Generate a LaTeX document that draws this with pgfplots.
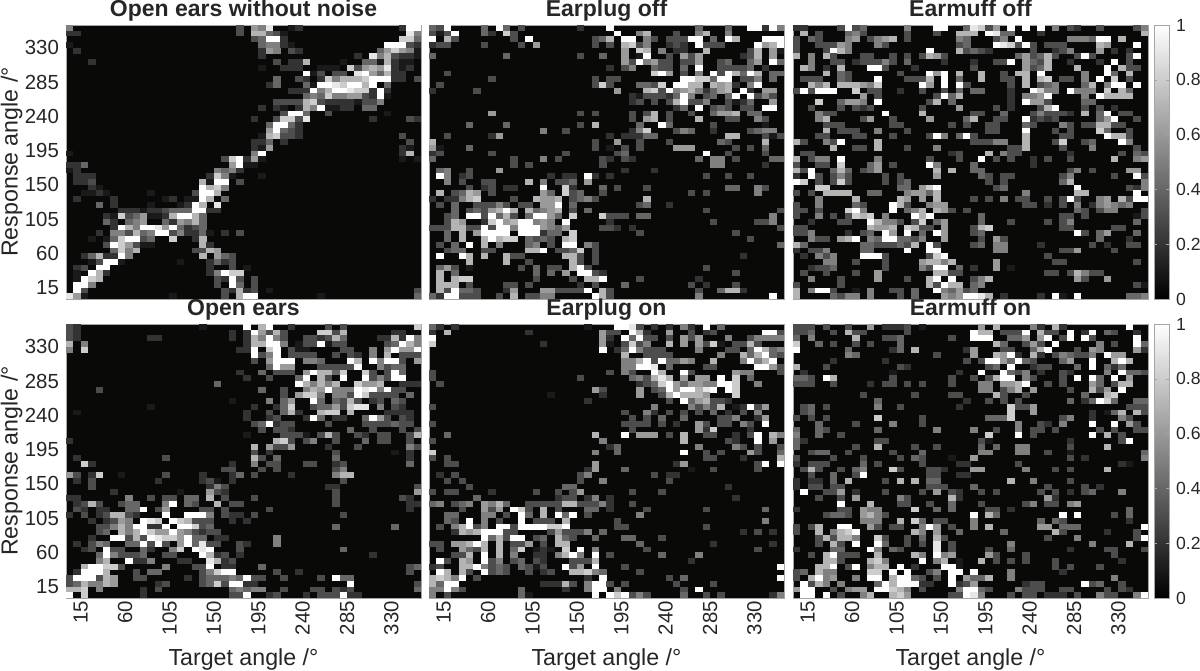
\documentclass[border=0pt]{standalone}
\usepackage{fontspec}
\setmainfont{Liberation Sans}
\usepackage{pgfplots}
\usepackage{pgfplotstable}
\pgfplotsset{compat=1.18}
\pgfdeclareplotmark{cell}{\pgfpathrectangle{\pgfpoint{-1.87pt}{-1.45pt}}{\pgfpoint{3.74pt}{2.9pt}}\pgfusepathqfill}
\definecolor{bg}{RGB}{9,9,7}
\definecolor{txt}{RGB}{38,38,38}
\pgfplotsset{
  panel/.style={
    scale only axis, anchor=south west, width=177.5pt, height=137pt,
    xmin=0, xmax=360, ymin=0, ymax=360,
    xtick={15,60,105,150,195,240,285,330}, ytick={15,60,105,150,195,240,285,330},
    /pgf/number format/assume math mode=true,
    axis background/.style={fill=bg}, axis on top,
    axis line style={draw=black!35}, major tick length=0pt,
    tick label style={font=\fontsize{10.2}{12}\selectfont, text=txt},
    label style={font=\fontsize{11.6}{13}\selectfont, text=txt},
    title style={font=\fontsize{11.5}{13}\selectfont\bfseries, text=txt, anchor=base, yshift=-1.85pt},
    xticklabel style={rotate=90, anchor=east, xshift=2pt},
    xlabel={Target angle /°}, ylabel={Response angle /°},
    ylabel style={at={(axis description cs:-0.153,0.5)}, anchor=center},
    colormap/blackwhite, point meta min=0, point meta max=1,
  },
  cbar/.style={
    scale only axis, anchor=south west, width=7.5pt, height=137pt,
    xmin=0, xmax=1, ymin=0, ymax=1, xtick=\empty,
    ytick={0,0.2,0.4,0.6,0.8,1}, yticklabels={0,0.2,0.4,0.6,0.8,1},
    yticklabel pos=right, axis on top, axis line style={draw=black!35},
    major tick length=1.5pt, tick style={draw=black!35},
    tick label style={font=\fontsize{8.8}{11}\selectfont, text=txt},
    colormap/blackwhite, point meta min=0, point meta max=1,
  },
  cells/.style={scatter, only marks, mark=cell, scatter src=explicit,
    scatter/use mapped color={fill=mapped color, draw=none}},
  /pgfplots/table/cellsrc/.style={x expr=\thisrow{c}*7.5-3.75, y expr=363.75-\thisrow{r}*7.5, meta expr=\thisrow{v}/10},
}
% c = column from left, r = row from top, v = tenths of full scale; cells not listed are 0
\pgfplotstableread[row sep=\\]{c r v\\
1 1 5\\24 1 3\\26 1 6\\27 1 5\\28 1 9\\31 1 1\\32 1 2\\46 1 2\\47 1 10\\48 1 10\\
1 2 2\\2 2 2\\24 2 3\\26 2 7\\27 2 7\\28 2 4\\29 2 3\\30 2 1\\47 2 9\\48 2 5\\
26 3 3\\27 3 4\\28 3 10\\29 3 10\\30 3 2\\46 3 8\\47 3 8\\48 3 4\\
1 4 1\\27 4 4\\28 4 5\\29 4 5\\30 4 2\\31 4 1\\44 4 10\\45 4 10\\46 4 10\\47 4 3\\48 4 2\\
2 5 2\\27 5 2\\28 5 6\\29 5 5\\31 5 3\\32 5 2\\43 5 4\\44 5 6\\45 5 8\\46 5 6\\47 5 5\\48 5 1\\
27 6 2\\40 6 2\\42 6 9\\43 6 5\\44 6 7\\45 6 3\\46 6 2\\47 6 2\\48 6 1\\
4 7 2\\29 7 3\\31 7 2\\32 7 2\\33 7 7\\38 7 1\\41 7 4\\42 7 4\\43 7 1\\44 7 7\\45 7 2\\46 7 1\\47 7 1\\
27 8 1\\30 8 2\\31 8 2\\32 8 2\\35 8 1\\36 8 1\\37 8 1\\39 8 8\\40 8 3\\41 8 6\\42 8 7\\43 8 6\\44 8 9\\45 8 2\\46 8 1\\47 8 2\\
33 9 10\\34 9 1\\35 9 3\\37 9 3\\38 9 3\\40 9 9\\41 9 10\\42 9 6\\43 9 4\\44 9 7\\45 9 2\\46 9 2\\
29 10 4\\32 10 3\\33 10 2\\35 10 2\\36 10 8\\37 10 5\\38 10 7\\39 10 7\\40 10 7\\41 10 8\\42 10 10\\43 10 10\\44 10 10\\45 10 2\\46 10 2\\48 10 3\\
28 11 2\\29 11 4\\33 11 4\\34 11 1\\35 11 10\\36 11 10\\37 11 9\\38 11 8\\39 11 10\\40 11 10\\41 11 7\\42 11 10\\44 11 4\\
31 12 2\\32 12 2\\33 12 2\\34 12 10\\35 12 5\\36 12 7\\37 12 10\\38 12 10\\39 12 9\\40 12 8\\41 12 8\\42 12 2\\43 12 10\\44 12 2\\
33 13 4\\34 13 5\\35 13 4\\36 13 8\\37 13 5\\38 13 5\\39 13 6\\40 13 6\\41 13 3\\42 13 2\\43 13 10\\44 13 1\\
29 14 3\\30 14 3\\31 14 3\\32 14 3\\33 14 7\\34 14 8\\35 14 3\\36 14 2\\37 14 2\\38 14 2\\39 14 2\\40 14 1\\41 14 3\\42 14 3\\43 14 5\\
27 15 2\\29 15 2\\30 15 1\\32 15 2\\33 15 7\\34 15 5\\35 15 10\\36 15 1\\37 15 1\\38 15 2\\39 15 2\\41 15 4\\42 15 4\\
30 16 3\\31 16 10\\32 16 10\\33 16 4\\36 16 3\\44 16 1\\
26 17 2\\29 17 3\\30 17 8\\31 17 8\\32 17 3\\33 17 9\\42 17 2\\47 17 3\\48 17 2\\
28 18 4\\29 18 10\\30 18 10\\31 18 4\\32 18 2\\
28 19 6\\29 19 10\\30 19 4\\31 19 3\\32 19 2\\
27 20 1\\28 20 7\\29 20 8\\30 20 3\\31 20 3\\32 20 2\\46 20 3\\
26 21 2\\27 21 2\\28 21 4\\30 21 2\\47 21 3\\
26 22 2\\27 22 1\\28 22 6\\46 22 2\\47 22 1\\
1 23 1\\26 23 5\\27 23 10\\46 23 2\\47 23 7\\
22 24 3\\23 24 8\\24 24 10\\25 24 2\\26 24 6\\27 24 1\\46 24 1\\48 24 1\\
1 25 2\\2 25 2\\3 25 4\\23 25 6\\24 25 10\\25 25 1\\26 25 1\\
1 26 1\\2 26 2\\21 26 5\\22 26 4\\23 26 5\\24 26 2\\
2 27 2\\3 27 2\\4 27 2\\20 27 2\\21 27 8\\22 27 5\\23 27 1\\27 27 1\\
2 28 2\\3 28 2\\4 28 3\\19 28 7\\20 28 1\\21 28 10\\22 28 10\\24 28 3\\
4 29 2\\5 29 1\\19 29 10\\20 29 7\\21 29 8\\22 29 5\\
3 30 1\\4 30 1\\5 30 2\\6 30 1\\12 30 1\\18 30 3\\19 30 10\\20 30 10\\21 30 7\\
2 31 2\\7 31 2\\14 31 1\\15 31 2\\17 31 1\\18 31 1\\19 31 10\\20 31 7\\22 31 4\\
5 32 4\\7 32 2\\12 32 1\\16 32 1\\17 32 2\\18 32 10\\19 32 7\\21 32 9\\
8 33 2\\9 33 2\\10 33 2\\11 33 1\\12 33 2\\13 33 2\\14 33 3\\15 33 4\\16 33 4\\17 33 4\\18 33 10\\19 33 10\\20 33 2\\21 33 2\\
6 34 2\\7 34 1\\8 34 8\\9 34 3\\10 34 4\\11 34 6\\12 34 1\\13 34 1\\14 34 2\\15 34 7\\16 34 10\\17 34 10\\18 34 7\\19 34 4\\
6 35 4\\7 35 2\\9 35 4\\10 35 5\\11 35 6\\14 35 4\\15 35 2\\16 35 6\\17 35 5\\18 35 7\\19 35 4\\
7 36 2\\8 36 10\\9 36 7\\10 36 5\\11 36 10\\12 36 10\\13 36 9\\14 36 6\\15 36 10\\16 36 4\\17 36 2\\18 36 3\\19 36 4\\
5 37 2\\7 37 5\\8 37 5\\9 37 3\\10 37 7\\11 37 4\\12 37 5\\13 37 10\\14 37 10\\15 37 3\\16 37 5\\17 37 2\\18 37 2\\19 37 4\\20 37 1\\22 37 2\\24 37 3\\
4 38 1\\6 38 1\\7 38 4\\8 38 8\\9 38 10\\10 38 10\\11 38 3\\12 38 4\\15 38 8\\18 38 2\\19 38 7\\
6 39 3\\7 39 10\\8 39 8\\9 39 6\\10 39 3\\11 39 1\\12 39 1\\19 39 7\\20 39 2\\
7 40 4\\8 40 8\\9 40 5\\10 40 7\\18 40 3\\19 40 3\\20 40 7\\21 40 6\\
3 41 2\\4 41 4\\5 41 7\\6 41 2\\7 41 2\\8 41 10\\9 41 5\\19 41 7\\21 41 6\\22 41 4\\23 41 3\\
4 42 1\\5 42 3\\6 42 10\\7 42 10\\8 42 1\\16 42 1\\20 42 2\\21 42 4\\22 42 2\\23 42 3\\
2 43 2\\3 43 3\\5 43 10\\6 43 10\\20 43 2\\23 43 3\\25 43 1\\
2 44 1\\4 44 10\\5 44 7\\6 44 2\\20 44 2\\21 44 5\\22 44 10\\23 44 8\\24 44 8\\
2 45 1\\3 45 10\\4 45 8\\5 45 7\\21 45 3\\22 45 2\\23 45 10\\24 45 3\\26 45 3\\
2 46 10\\3 46 10\\4 46 5\\21 46 3\\23 46 10\\24 46 4\\26 46 3\\
2 47 10\\3 47 3\\22 47 3\\23 47 2\\24 47 7\\25 47 2\\26 47 3\\28 47 1\\48 47 3\\
1 48 9\\2 48 6\\3 48 1\\15 48 1\\22 48 3\\24 48 7\\25 48 10\\26 48 10\\35 48 1\\48 48 4\\
}\panelA
\pgfplotstableread[row sep=\\]{c r v\\
1 1 4\\2 1 3\\3 1 10\\8 1 4\\10 1 10\\11 1 4\\13 1 3\\21 1 2\\25 1 10\\37 1 4\\41 1 4\\44 1 10\\45 1 10\\46 1 2\\47 1 10\\48 1 5\\
1 2 3\\2 2 1\\3 2 3\\4 2 10\\8 2 4\\9 2 2\\11 2 8\\12 2 3\\26 2 10\\29 2 5\\30 2 7\\34 2 3\\37 2 5\\38 2 7\\41 2 5\\
1 3 10\\3 3 7\\4 3 3\\12 3 3\\14 3 10\\23 3 3\\24 3 4\\25 3 7\\27 3 10\\28 3 10\\30 3 5\\31 3 3\\33 3 3\\34 3 3\\35 3 3\\36 3 10\\37 3 10\\39 3 4\\41 3 10\\42 3 7\\46 3 10\\47 3 10\\48 3 10\\
1 4 2\\2 4 3\\3 4 3\\8 4 3\\13 4 3\\15 4 6\\23 4 3\\25 4 3\\27 4 7\\28 4 8\\29 4 3\\30 4 5\\33 4 2\\34 4 3\\35 4 2\\37 4 10\\38 4 3\\39 4 3\\40 4 3\\45 4 10\\46 4 6\\47 4 7\\48 4 10\\
27 5 6\\29 5 8\\30 5 7\\32 5 5\\34 5 2\\35 5 2\\38 5 7\\44 5 3\\45 5 7\\47 5 6\\48 5 1\\
1 6 4\\11 6 4\\21 6 3\\24 6 4\\27 6 6\\29 6 1\\30 6 10\\33 6 3\\35 6 6\\36 6 3\\37 6 6\\43 6 2\\44 6 3\\45 6 7\\47 6 6\\
27 7 6\\28 7 3\\29 7 10\\30 7 5\\31 7 6\\32 7 3\\33 7 3\\35 7 3\\36 7 3\\37 7 6\\40 7 3\\41 7 4\\44 7 4\\45 7 6\\47 7 10\\48 7 4\\
25 8 2\\27 8 3\\28 8 5\\31 8 4\\32 8 3\\33 8 3\\35 8 4\\37 8 10\\40 8 3\\41 8 3\\42 8 3\\43 8 3\\44 8 4\\46 8 2\\
3 9 3\\31 9 8\\32 9 10\\33 9 6\\35 9 3\\37 9 5\\39 9 10\\40 9 3\\41 9 10\\42 9 7\\43 9 4\\44 9 10\\45 9 7\\47 9 4\\48 9 4\\
9 10 3\\23 10 3\\25 10 3\\26 10 3\\35 10 10\\36 10 10\\37 10 8\\38 10 8\\39 10 4\\40 10 10\\41 10 10\\43 10 3\\44 10 3\\45 10 5\\47 10 4\\
2 11 3\\23 11 3\\24 11 8\\25 11 3\\29 11 4\\30 11 4\\31 11 3\\32 11 8\\34 11 10\\35 11 10\\36 11 7\\37 11 7\\39 11 7\\40 11 6\\41 11 7\\42 11 2\\44 11 5\\45 11 10\\
1 12 2\\7 12 3\\26 12 6\\30 12 7\\31 12 8\\32 12 3\\33 12 10\\34 12 5\\35 12 6\\36 12 7\\37 12 5\\38 12 2\\39 12 4\\40 12 6\\41 12 7\\43 12 10\\44 12 2\\46 12 6\\47 12 6\\
28 13 2\\29 13 1\\30 13 3\\31 13 3\\32 13 3\\33 13 2\\34 13 4\\35 13 10\\36 13 5\\38 13 3\\39 13 4\\41 13 4\\42 13 10\\44 13 10\\45 13 3\\46 13 5\\47 13 3\\
28 14 2\\29 14 3\\31 14 3\\33 14 3\\34 14 7\\35 14 10\\36 14 3\\37 14 3\\38 14 5\\41 14 3\\42 14 1\\43 14 2\\44 14 4\\47 14 6\\
34 15 2\\35 15 4\\37 15 10\\39 15 3\\40 15 4\\41 15 3\\43 15 3\\44 15 3\\46 15 10\\47 15 10\\
9 16 6\\21 16 3\\23 16 3\\28 16 3\\30 16 3\\31 16 7\\33 16 3\\36 16 3\\39 16 4\\40 16 6\\41 16 6\\42 16 7\\44 16 4\\45 16 4\\
28 17 3\\30 17 6\\31 17 7\\33 17 3\\37 17 7\\41 17 3\\42 17 3\\45 17 5\\46 17 3\\
6 18 4\\11 18 4\\21 18 3\\23 18 7\\29 18 4\\32 18 10\\33 18 4\\39 18 3\\46 18 1\\
16 19 5\\19 19 3\\28 19 2\\29 19 5\\30 19 8\\34 19 3\\35 19 5\\36 19 4\\39 19 2\\44 19 3\\45 19 4\\46 19 5\\47 19 5\\
3 20 3\\9 20 2\\10 20 6\\25 20 2\\27 20 2\\28 20 2\\29 20 2\\30 20 4\\31 20 4\\41 20 7\\42 20 7\\46 20 3\\47 20 1\\48 20 3\\
1 21 7\\23 21 3\\26 21 6\\29 21 3\\33 21 3\\40 21 4\\41 21 3\\46 21 7\\
1 22 6\\2 22 1\\6 22 4\\23 22 3\\25 22 1\\27 22 3\\29 22 3\\34 22 6\\35 22 6\\36 22 6\\42 22 3\\44 22 3\\46 22 4\\
1 23 2\\2 23 3\\9 23 3\\19 23 3\\26 23 3\\27 23 4\\38 23 10\\41 23 3\\46 23 3\\
1 24 4\\12 24 3\\16 24 5\\18 24 3\\24 24 3\\25 24 2\\27 24 3\\28 24 2\\37 24 4\\39 24 5\\40 24 5\\42 24 3\\47 24 4\\48 24 4\\
12 25 3\\14 25 3\\24 25 3\\39 25 5\\40 25 5\\46 25 2\\
2 26 4\\3 26 5\\6 26 3\\10 26 6\\27 26 2\\31 26 2\\
2 27 10\\3 27 5\\5 27 2\\6 27 3\\17 27 2\\19 27 2\\20 27 2\\22 27 10\\23 27 2\\25 27 2\\38 27 3\\41 27 3\\44 27 3\\
3 28 5\\5 28 3\\8 28 3\\9 28 3\\14 28 7\\16 28 5\\18 28 3\\19 28 3\\20 28 4\\22 28 6\\
6 29 3\\8 29 2\\9 29 3\\11 29 2\\12 29 2\\16 29 10\\19 29 8\\20 29 2\\24 29 4\\26 29 3\\30 29 3\\41 29 4\\42 29 4\\45 29 5\\46 29 3\\
2 30 7\\4 30 3\\5 30 4\\6 30 7\\7 30 6\\9 30 3\\16 30 6\\17 30 4\\19 30 8\\20 30 3\\21 30 4\\24 30 3\\36 30 3\\38 30 3\\45 30 5\\
1 31 2\\3 31 2\\4 31 2\\5 31 5\\6 31 7\\7 31 8\\12 31 3\\15 31 7\\16 31 6\\17 31 6\\18 31 7\\20 31 3\\21 31 4\\22 31 5\\23 31 3\\30 31 7\\
2 32 3\\4 32 4\\7 32 3\\8 32 3\\9 32 3\\10 32 5\\11 32 3\\13 32 3\\14 32 3\\16 32 6\\17 32 6\\18 32 10\\20 32 4\\29 32 3\\30 32 4\\33 32 2\\
4 33 4\\6 33 3\\7 33 4\\8 33 3\\9 33 6\\10 33 7\\11 33 10\\12 33 7\\14 33 7\\15 33 4\\16 33 5\\17 33 6\\18 33 7\\20 33 3\\22 33 4\\38 33 3\\48 33 3\\
3 34 3\\4 34 4\\6 34 10\\7 34 10\\8 34 3\\9 34 10\\10 34 4\\11 34 7\\12 34 3\\14 34 4\\15 34 10\\16 34 10\\17 34 6\\18 34 4\\20 34 8\\24 34 8\\25 34 3\\26 34 3\\27 34 3\\29 34 4\\30 34 4\\47 34 5\\
3 35 3\\4 35 7\\5 35 6\\8 35 2\\9 35 8\\10 35 10\\11 35 6\\12 35 7\\13 35 10\\14 35 10\\15 35 5\\16 35 6\\17 35 5\\19 35 10\\25 35 2\\39 35 3\\45 35 3\\46 35 3\\47 35 5\\
1 36 3\\2 36 3\\3 36 3\\4 36 7\\5 36 7\\6 36 3\\7 36 3\\8 36 10\\9 36 3\\10 36 10\\11 36 10\\12 36 5\\13 36 10\\14 36 10\\15 36 10\\16 36 6\\17 36 5\\18 36 4\\19 36 6\\24 36 3\\25 36 3\\26 36 2\\28 36 2\\48 36 3\\
3 37 4\\5 37 7\\7 37 6\\8 37 10\\9 37 10\\10 37 10\\11 37 10\\13 37 10\\14 37 10\\15 37 10\\16 37 2\\17 37 4\\18 37 4\\20 37 8\\29 37 3\\42 37 3\\
3 38 4\\5 38 7\\8 38 7\\9 38 10\\10 38 7\\11 38 8\\12 38 8\\14 38 4\\15 38 3\\16 38 4\\17 38 3\\19 38 7\\20 38 8\\44 38 3\\
2 39 3\\4 39 4\\6 39 10\\8 39 7\\10 39 5\\14 39 4\\15 39 5\\17 39 3\\19 39 10\\20 39 10\\22 39 5\\23 39 3\\48 39 4\\
3 40 3\\4 40 4\\5 40 4\\8 40 3\\9 40 3\\14 40 7\\15 40 7\\16 40 10\\18 40 3\\19 40 3\\20 40 4\\21 40 8\\23 40 3\\
2 41 10\\5 41 10\\6 41 7\\8 41 7\\11 41 7\\12 41 3\\13 41 3\\19 41 7\\20 41 7\\21 41 3\\23 41 3\\43 41 2\\
6 42 7\\11 42 7\\14 42 3\\20 42 7\\21 42 3\\23 42 3\\
2 43 4\\3 43 6\\4 43 3\\6 43 1\\13 43 3\\15 43 4\\17 43 3\\18 43 3\\20 43 7\\21 43 10\\22 43 3\\38 43 3\\
2 44 7\\4 44 4\\15 44 4\\17 44 4\\19 44 6\\21 44 10\\22 44 10\\23 44 3\\24 44 2\\42 44 3\\
2 45 7\\4 45 7\\5 45 8\\6 45 8\\15 45 3\\20 45 3\\22 45 7\\23 45 7\\24 45 10\\29 45 3\\37 45 2\\
2 46 7\\3 46 7\\4 46 7\\6 46 3\\11 46 3\\12 46 3\\14 46 3\\21 46 2\\23 46 3\\27 46 4\\36 46 3\\38 46 2\\42 46 3\\
2 47 7\\3 47 3\\4 47 10\\5 47 4\\6 47 4\\7 47 3\\11 47 2\\12 47 6\\16 47 6\\17 47 6\\18 47 3\\19 47 3\\20 47 3\\21 47 3\\22 47 10\\24 47 7\\25 47 3\\37 47 3\\40 47 4\\41 47 7\\42 47 7\\43 47 2\\
1 48 4\\2 48 2\\3 48 10\\4 48 10\\5 48 3\\6 48 3\\7 48 3\\10 48 3\\12 48 7\\14 48 3\\15 48 3\\16 48 5\\17 48 5\\23 48 10\\24 48 7\\25 48 3\\37 48 5\\47 48 10\\
}\panelB
\pgfplotstableread[row sep=\\]{c r v\\
1 1 2\\2 1 2\\7 1 3\\8 1 10\\9 1 3\\10 1 4\\16 1 5\\20 1 10\\21 1 10\\24 1 4\\25 1 9\\26 1 8\\27 1 3\\28 1 6\\30 1 10\\32 1 10\\34 1 10\\36 1 5\\38 1 3\\39 1 2\\42 1 3\\47 1 3\\48 1 5\\
2 2 7\\4 2 3\\8 2 4\\9 2 5\\10 2 3\\16 2 3\\20 2 3\\23 2 7\\24 2 7\\25 2 7\\27 2 10\\28 2 9\\29 2 4\\30 2 4\\34 2 2\\48 2 7\\
1 3 3\\3 3 4\\4 3 3\\8 3 5\\9 3 6\\11 3 3\\12 3 5\\13 3 6\\14 3 7\\16 3 3\\23 3 5\\24 3 4\\28 3 3\\29 3 5\\31 3 10\\38 3 5\\39 3 5\\40 3 5\\41 3 4\\42 3 10\\43 3 10\\45 3 7\\
1 4 3\\4 4 3\\5 4 3\\6 4 3\\7 4 6\\8 4 5\\12 4 5\\13 4 3\\23 4 3\\24 4 4\\28 4 10\\29 4 9\\30 4 8\\31 4 3\\32 4 10\\33 4 3\\35 4 3\\36 4 3\\37 4 3\\42 4 7\\43 4 6\\47 4 10\\
1 5 3\\5 5 3\\6 5 10\\7 5 7\\8 5 5\\19 5 10\\23 5 7\\24 5 3\\25 5 4\\26 5 3\\27 5 2\\33 5 3\\36 5 2\\37 5 3\\38 5 5\\42 5 6\\44 5 2\\46 5 2\\
1 6 7\\3 6 5\\5 6 7\\6 6 3\\10 6 3\\11 6 3\\14 6 3\\16 6 3\\18 6 3\\19 6 7\\20 6 6\\21 6 3\\31 6 4\\32 6 6\\33 6 3\\34 6 4\\35 6 7\\36 6 3\\39 6 3\\40 6 10\\41 6 3\\46 6 3\\47 6 10\\
3 7 5\\6 7 3\\7 7 3\\9 7 2\\10 7 3\\11 7 3\\12 7 3\\13 7 5\\14 7 3\\16 7 4\\21 7 2\\25 7 2\\28 7 3\\29 7 3\\30 7 10\\32 7 6\\33 7 4\\34 7 3\\35 7 7\\38 7 2\\42 7 2\\44 7 10\\46 7 3\\
2 8 7\\3 8 5\\5 8 2\\7 8 7\\11 8 10\\12 8 10\\13 8 3\\17 8 2\\25 8 3\\32 8 6\\33 8 3\\34 8 4\\35 8 7\\39 8 7\\43 8 10\\45 8 7\\46 8 3\\47 8 3\\
5 9 7\\7 9 4\\8 9 3\\15 9 3\\19 9 10\\20 9 6\\21 9 10\\23 9 7\\26 9 7\\29 9 3\\31 9 7\\32 9 7\\34 9 10\\40 9 5\\43 9 10\\44 9 4\\46 9 7\\
2 10 3\\3 10 3\\4 10 3\\7 10 4\\8 10 3\\12 10 10\\16 10 3\\17 10 3\\18 10 3\\19 10 7\\21 10 10\\23 10 4\\26 10 7\\29 10 3\\30 10 3\\32 10 7\\34 10 7\\35 10 8\\37 10 3\\38 10 3\\40 10 5\\42 10 10\\44 10 8\\46 10 3\\
3 11 7\\4 11 5\\5 11 7\\7 11 7\\8 11 7\\9 11 7\\10 11 6\\11 11 5\\12 11 8\\18 11 10\\19 11 6\\21 11 10\\23 11 10\\24 11 3\\30 11 3\\32 11 7\\34 11 3\\35 11 4\\36 11 5\\40 11 4\\41 11 7\\43 11 5\\44 11 10\\45 11 10\\47 11 10\\
1 12 3\\2 12 10\\3 12 3\\4 12 10\\5 12 10\\6 12 10\\9 12 8\\11 12 3\\12 12 3\\15 12 2\\18 12 3\\21 12 3\\23 12 4\\25 12 4\\26 12 4\\30 12 2\\33 12 10\\34 12 8\\35 12 5\\36 12 5\\38 12 10\\39 12 5\\40 12 5\\41 12 5\\43 12 8\\45 12 7\\46 12 4\\
10 13 6\\12 13 3\\20 13 3\\21 13 10\\22 13 4\\23 13 7\\30 13 2\\32 13 5\\33 13 5\\34 13 6\\35 13 10\\40 13 5\\42 13 10\\43 13 7\\44 13 7\\45 13 7\\46 13 7\\
4 14 8\\7 14 4\\8 14 6\\9 14 6\\10 14 5\\12 14 10\\19 14 3\\20 14 7\\22 14 4\\30 14 2\\32 14 10\\33 14 6\\34 14 6\\35 14 3\\40 14 4\\41 14 4\\
3 15 3\\7 15 3\\9 15 3\\10 15 2\\11 15 3\\18 15 3\\23 15 6\\28 15 3\\30 15 2\\34 15 3\\35 15 7\\36 15 10\\40 15 3\\42 15 3\\44 15 2\\
4 16 5\\5 16 3\\6 16 3\\13 16 10\\18 16 7\\25 16 3\\26 16 3\\29 16 4\\33 16 3\\34 16 5\\35 16 3\\36 16 3\\37 16 3\\38 16 2\\40 16 7\\42 16 4\\43 16 10\\45 16 3\\46 16 3\\
4 17 5\\5 17 7\\10 17 3\\11 17 6\\14 17 3\\19 17 6\\24 17 4\\25 17 7\\28 17 3\\29 17 3\\32 17 10\\33 17 2\\34 17 3\\35 17 2\\36 17 3\\42 17 4\\43 17 6\\44 17 10\\47 17 3\\
5 18 3\\6 18 3\\7 18 3\\14 18 3\\15 18 3\\22 18 3\\24 18 3\\27 18 3\\28 18 3\\32 18 4\\33 18 3\\37 18 5\\38 18 3\\40 18 3\\41 18 3\\42 18 7\\43 18 7\\44 18 3\\45 18 3\\
5 19 7\\7 19 3\\8 19 3\\9 19 3\\12 19 5\\16 19 3\\27 19 3\\28 19 3\\32 19 10\\36 19 3\\38 19 3\\42 19 8\\43 19 4\\46 19 3\\
4 20 3\\5 20 3\\9 20 3\\10 20 3\\14 20 3\\19 20 3\\20 20 10\\21 20 5\\23 20 4\\24 20 10\\25 20 3\\32 20 7\\37 20 3\\38 20 3\\43 20 10\\44 20 7\\45 20 7\\46 20 3\\
1 21 7\\2 21 3\\5 21 5\\6 21 3\\7 21 10\\12 21 7\\25 21 3\\26 21 3\\27 21 3\\28 21 5\\29 21 5\\32 21 7\\36 21 3\\37 21 8\\40 21 3\\41 21 4\\45 21 10\\46 21 5\\
6 22 7\\9 22 3\\10 22 3\\12 22 7\\16 22 3\\20 22 5\\30 22 3\\31 22 3\\32 22 7\\37 22 3\\41 22 5\\47 22 3\\
2 23 3\\3 23 3\\22 23 2\\23 23 3\\27 23 7\\29 23 5\\30 23 3\\31 23 3\\38 23 2\\45 23 3\\47 23 4\\48 23 3\\
1 24 7\\3 24 3\\4 24 5\\5 24 5\\7 24 10\\12 24 5\\19 24 3\\23 24 3\\26 24 10\\28 24 3\\30 24 3\\33 24 2\\35 24 3\\38 24 3\\44 24 7\\47 24 5\\48 24 6\\
1 25 3\\4 25 3\\5 25 3\\7 25 8\\11 25 4\\12 25 6\\14 25 3\\19 25 10\\20 25 5\\25 25 4\\33 25 2\\
1 26 7\\2 26 3\\3 26 10\\6 26 4\\7 26 7\\8 26 4\\10 26 3\\11 26 4\\12 26 6\\20 26 7\\22 26 7\\25 26 4\\26 26 4\\38 26 3\\39 26 5\\41 26 3\\46 26 6\\47 26 6\\
1 27 2\\3 27 10\\4 27 3\\6 27 3\\7 27 5\\8 27 3\\13 27 3\\15 27 3\\20 27 6\\26 27 4\\27 27 3\\29 27 3\\30 27 3\\37 27 3\\38 27 5\\44 27 3\\47 27 10\\48 27 3\\
1 28 10\\2 28 8\\4 28 3\\6 28 3\\7 28 8\\8 28 3\\13 28 3\\15 28 3\\16 28 4\\27 28 3\\29 28 3\\37 28 4\\38 28 7\\48 28 5\\
4 29 8\\5 29 8\\15 29 4\\16 29 4\\18 29 6\\19 29 8\\20 29 10\\28 29 3\\29 29 4\\39 29 10\\46 29 3\\47 29 2\\48 29 5\\
1 30 3\\3 30 3\\5 30 7\\6 30 7\\7 30 7\\8 30 7\\11 30 4\\12 30 4\\16 30 5\\17 30 6\\18 30 6\\19 30 4\\20 30 7\\32 30 5\\39 30 7\\40 30 7\\47 30 10\\
4 31 5\\9 31 7\\15 31 7\\16 31 6\\18 31 6\\20 31 7\\25 31 3\\27 31 3\\29 31 5\\31 31 3\\32 31 3\\35 31 3\\37 31 3\\38 31 10\\39 31 3\\42 31 5\\43 31 6\\45 31 7\\46 31 3\\47 31 10\\48 31 10\\
1 32 3\\4 32 5\\9 32 4\\10 32 3\\14 32 10\\15 32 7\\16 32 3\\19 32 5\\20 32 6\\21 32 6\\32 32 3\\33 32 3\\35 32 2\\37 32 3\\39 32 5\\41 32 2\\42 32 5\\43 32 6\\44 32 5\\45 32 4\\46 32 5\\
1 33 3\\2 33 3\\4 33 3\\8 33 8\\9 33 10\\10 33 5\\14 33 10\\16 33 4\\17 33 5\\18 33 7\\20 33 7\\21 33 6\\22 33 3\\24 33 3\\39 33 4\\40 33 3\\42 33 3\\43 33 5\\44 33 5\\48 33 3\\
1 34 3\\4 34 5\\6 34 3\\8 34 3\\9 34 8\\10 34 7\\11 34 8\\13 34 5\\17 34 10\\18 34 7\\19 34 10\\26 34 4\\37 34 3\\38 34 3\\40 34 3\\47 34 1\\48 34 3\\
3 35 2\\7 35 3\\8 35 3\\11 35 10\\12 35 7\\13 35 5\\14 35 5\\15 35 3\\17 35 3\\18 35 8\\20 35 4\\21 35 6\\26 35 4\\30 35 3\\35 35 3\\37 35 3\\38 35 5\\47 35 4\\
1 36 3\\2 36 3\\11 36 7\\12 36 6\\13 36 6\\14 36 7\\16 36 8\\17 36 7\\18 36 3\\19 36 3\\21 36 6\\25 36 3\\26 36 7\\27 36 8\\37 36 3\\38 36 3\\44 36 3\\45 36 3\\
1 37 3\\2 37 3\\3 37 5\\8 37 2\\10 37 3\\11 37 4\\13 37 10\\14 37 6\\16 37 10\\18 37 4\\20 37 10\\21 37 6\\25 37 3\\26 37 4\\39 37 10\\40 37 3\\42 37 4\\43 37 6\\47 37 4\\
3 38 5\\4 38 3\\5 38 3\\7 38 6\\8 38 7\\9 38 10\\11 38 5\\12 38 4\\13 38 10\\14 38 10\\15 38 4\\16 38 4\\17 38 3\\18 38 5\\21 38 6\\26 38 3\\28 38 6\\29 38 3\\42 38 4\\46 38 2\\
1 39 7\\2 39 4\\10 39 4\\11 39 4\\12 39 3\\13 39 3\\14 39 3\\15 39 4\\16 39 3\\17 39 7\\19 39 10\\20 39 3\\25 39 3\\26 39 4\\28 39 5\\29 39 5\\34 39 2\\41 39 3\\43 39 2\\46 39 3\\47 39 3\\
1 40 2\\3 40 3\\4 40 3\\5 40 5\\10 40 4\\11 40 4\\16 40 10\\19 40 10\\20 40 10\\28 40 5\\29 40 5\\37 40 3\\38 40 3\\39 40 6\\44 40 3\\
2 41 2\\4 41 5\\5 41 3\\6 41 5\\10 41 10\\11 41 10\\12 41 10\\13 41 3\\19 41 3\\20 41 8\\21 41 10\\35 41 3\\
5 42 5\\6 42 5\\9 42 3\\13 42 3\\18 42 6\\19 42 7\\20 42 7\\21 42 5\\22 42 7\\28 42 6\\36 42 3\\37 42 3\\47 42 3\\
3 43 2\\4 43 3\\5 43 3\\6 43 4\\13 43 3\\18 43 5\\19 43 3\\20 43 10\\21 43 10\\23 43 4\\25 43 2\\28 43 6\\30 43 1\\
2 44 3\\5 44 3\\9 44 3\\12 44 6\\20 44 7\\21 44 7\\22 44 3\\23 44 3\\35 44 3\\36 44 3\\38 44 3\\39 44 7\\40 44 5\\41 44 3\\42 44 3\\
3 45 5\\7 45 3\\12 45 6\\16 45 3\\19 45 7\\20 45 10\\22 45 10\\25 45 3\\26 45 5\\27 45 7\\39 45 6\\40 45 3\\43 45 6\\
1 46 3\\7 46 3\\19 46 7\\20 46 3\\21 46 10\\22 46 7\\23 46 7\\25 46 4\\26 46 5\\47 46 3\\48 46 1\\
1 47 7\\3 47 5\\4 47 10\\5 47 10\\6 47 3\\9 47 1\\11 47 5\\14 47 3\\15 47 3\\17 47 4\\20 47 10\\21 47 5\\22 47 4\\23 47 6\\24 47 3\\25 47 4\\
1 48 7\\6 48 4\\7 48 3\\8 48 5\\9 48 5\\11 48 5\\15 48 3\\17 48 4\\21 48 6\\22 48 5\\23 48 6\\24 48 10\\25 48 10\\26 48 9\\27 48 7\\29 48 2\\34 48 2\\36 48 10\\37 48 1\\39 48 10\\46 48 4\\47 48 4\\48 48 5\\
}\panelC
\pgfplotstableread[row sep=\\]{c r v\\
1 1 3\\2 1 2\\19 1 1\\25 1 10\\27 1 7\\28 1 10\\31 1 2\\36 1 3\\38 1 3\\48 1 8\\
1 2 3\\2 2 2\\23 2 2\\25 2 2\\26 2 10\\27 2 6\\28 2 3\\29 2 7\\30 2 3\\35 2 8\\36 2 8\\37 2 3\\38 2 7\\45 2 2\\46 2 2\\
1 3 3\\2 3 2\\12 3 2\\13 3 2\\23 3 2\\25 3 2\\26 3 7\\27 3 5\\28 3 10\\29 3 5\\30 3 3\\33 3 3\\34 3 3\\35 3 2\\36 3 3\\37 3 7\\38 3 4\\43 3 2\\44 3 2\\45 3 7\\46 3 2\\47 3 10\\48 3 5\\
1 4 7\\3 4 5\\25 4 2\\26 4 7\\27 4 7\\28 4 10\\29 4 10\\30 4 5\\32 4 1\\33 4 3\\34 4 3\\35 4 10\\36 4 1\\37 4 3\\38 4 3\\44 4 3\\45 4 4\\46 4 10\\47 4 7\\48 4 5\\
1 5 5\\3 5 8\\24 5 2\\25 5 2\\26 5 10\\28 5 8\\29 5 10\\31 5 3\\32 5 1\\33 5 1\\38 5 3\\39 5 3\\42 5 5\\44 5 6\\45 5 10\\46 5 6\\47 5 6\\48 5 10\\
26 6 10\\27 6 3\\28 6 5\\29 6 10\\31 6 3\\32 6 3\\33 6 3\\34 6 3\\37 6 3\\39 6 3\\40 6 2\\42 6 5\\44 6 7\\46 6 3\\47 6 3\\48 6 3\\
26 7 3\\28 7 6\\29 7 10\\30 7 10\\31 7 10\\33 7 5\\34 7 5\\35 7 4\\39 7 10\\40 7 7\\42 7 10\\43 7 5\\44 7 10\\45 7 10\\46 7 3\\48 7 6\\
28 8 4\\29 8 10\\30 8 6\\31 8 6\\35 8 3\\36 8 3\\37 8 3\\38 8 3\\39 8 3\\40 8 10\\43 8 5\\44 8 3\\45 8 4\\46 8 4\\
24 9 2\\27 9 4\\29 9 3\\30 9 3\\31 9 3\\33 9 6\\34 9 10\\35 9 7\\36 9 7\\37 9 4\\38 9 8\\41 9 8\\42 9 3\\44 9 3\\45 9 10\\46 9 4\\
25 10 2\\28 10 3\\32 10 4\\33 10 10\\35 10 7\\36 10 3\\38 10 10\\41 10 10\\42 10 3\\43 10 5\\44 10 3\\45 10 10\\46 10 10\\
21 11 4\\32 11 10\\33 11 7\\34 11 5\\35 11 7\\36 11 5\\37 11 7\\40 11 8\\41 11 6\\42 11 6\\43 11 7\\46 11 2\\47 11 2\\48 11 2\\
5 12 3\\27 12 4\\30 12 3\\33 12 5\\34 12 7\\35 12 6\\36 12 10\\37 12 5\\38 12 5\\39 12 5\\40 12 10\\41 12 9\\42 12 10\\43 12 5\\44 12 10\\45 12 3\\46 12 3\\
30 13 3\\32 13 6\\33 13 8\\34 13 8\\35 13 5\\37 13 5\\38 13 5\\39 13 3\\40 13 10\\41 13 8\\42 13 3\\43 13 3\\44 13 3\\45 13 3\\47 13 4\\
23 14 1\\28 14 5\\30 14 4\\31 14 6\\34 14 10\\35 14 4\\37 14 4\\38 14 3\\39 14 7\\40 14 3\\42 14 2\\43 14 3\\45 14 4\\46 14 3\\
12 15 1\\26 15 2\\29 15 2\\30 15 4\\31 15 8\\34 15 3\\35 15 4\\36 15 4\\37 15 6\\38 15 3\\39 15 8\\40 15 9\\41 15 9\\43 15 5\\45 15 3\\46 15 2\\
2 16 1\\25 16 2\\28 16 3\\30 16 4\\31 16 7\\32 16 2\\35 16 7\\36 16 8\\37 16 8\\39 16 7\\44 16 2\\45 16 2\\46 16 2\\47 16 2\\
25 17 2\\28 17 2\\29 17 3\\33 17 2\\34 17 10\\35 17 4\\37 17 2\\38 17 2\\41 17 4\\42 17 10\\43 17 6\\44 17 3\\46 17 3\\47 17 2\\
26 18 3\\27 18 4\\28 18 10\\29 18 2\\30 18 3\\31 18 3\\36 18 3\\41 18 3\\42 18 3\\43 18 3\\44 18 3\\45 18 4\\46 18 3\\47 18 3\\
27 19 3\\29 19 3\\30 19 3\\31 19 2\\39 19 4\\42 19 3\\46 19 3\\48 19 3\\
25 20 1\\30 20 3\\31 20 3\\32 20 3\\33 20 1\\35 20 3\\36 20 7\\37 20 3\\40 20 3\\41 20 2\\43 20 3\\44 20 3\\47 20 3\\48 20 7\\
1 21 2\\29 21 7\\30 21 8\\31 21 3\\33 21 3\\34 21 5\\37 21 3\\41 21 4\\43 21 3\\44 21 3\\47 21 3\\
26 22 7\\28 22 6\\29 22 3\\30 22 3\\31 22 6\\36 22 2\\40 22 3\\47 22 5\\48 22 3\\
26 23 3\\28 23 2\\37 23 3\\45 23 1\\47 23 2\\
2 24 2\\14 24 3\\26 24 7\\27 24 3\\29 24 4\\37 24 4\\47 24 2\\
3 25 8\\4 25 2\\23 25 2\\26 25 5\\28 25 3\\29 25 3\\33 25 3\\34 25 3\\37 25 2\\38 25 3\\47 25 4\\
22 26 3\\23 26 3\\27 26 3\\29 26 3\\37 26 3\\38 26 5\\
1 27 6\\2 27 3\\4 27 2\\5 27 8\\8 27 1\\14 27 3\\19 27 2\\23 27 2\\24 27 4\\26 27 3\\31 27 2\\37 27 5\\38 27 7\\39 27 7\\
2 28 2\\4 28 3\\13 28 2\\19 28 2\\20 28 3\\21 28 1\\23 28 2\\38 28 3\\
4 29 3\\20 29 2\\21 29 5\\22 29 3\\36 29 2\\37 29 2\\48 29 3\\
7 30 2\\16 30 1\\20 30 6\\21 30 3\\22 30 2\\37 30 3\\48 30 6\\
1 31 2\\2 31 2\\9 31 5\\12 31 3\\14 31 3\\15 31 3\\17 31 4\\18 31 4\\20 31 7\\22 31 3\\26 31 3\\37 31 3\\46 31 3\\47 31 2\\
2 32 2\\3 32 3\\4 32 7\\5 32 3\\8 32 3\\9 32 4\\10 32 4\\14 32 5\\15 32 10\\17 32 4\\18 32 3\\21 32 7\\23 32 3\\24 32 3\\37 32 3\\47 32 2\\48 32 2\\
2 33 3\\3 33 2\\5 33 2\\6 33 2\\9 33 4\\10 33 4\\11 33 10\\13 33 3\\14 33 6\\19 33 3\\20 33 3\\22 33 3\\28 33 3\\47 33 2\\
1 34 2\\3 34 3\\5 34 2\\6 34 3\\7 34 7\\8 34 7\\9 34 3\\10 34 2\\14 34 10\\17 34 10\\18 34 10\\19 34 10\\20 34 5\\22 34 3\\23 34 2\\24 34 2\\26 34 3\\38 34 3\\
4 35 2\\6 35 2\\7 35 3\\8 35 6\\9 35 5\\11 35 10\\12 35 9\\13 35 8\\15 35 10\\16 35 8\\17 35 7\\18 35 3\\19 35 3\\20 35 3\\23 35 2\\25 35 2\\
5 36 3\\6 36 3\\7 36 5\\8 36 7\\9 36 5\\10 36 10\\11 36 10\\12 36 2\\13 36 2\\14 36 10\\16 36 10\\17 36 10\\18 36 8\\19 36 3\\20 36 4\\37 36 4\\45 36 4\\
5 37 3\\6 37 4\\8 37 7\\9 37 5\\10 37 7\\11 37 10\\12 37 8\\13 37 6\\14 37 6\\15 37 10\\16 37 6\\17 37 5\\18 37 3\\19 37 2\\20 37 3\\21 37 3\\
4 38 2\\7 38 10\\8 38 10\\9 38 3\\10 38 7\\11 38 3\\12 38 10\\13 38 9\\14 38 8\\15 38 8\\16 38 6\\17 38 10\\18 38 4\\19 38 4\\21 38 2\\22 38 2\\29 38 5\\
2 39 2\\4 39 3\\5 39 5\\6 39 4\\9 39 4\\10 39 4\\11 39 10\\12 39 3\\13 39 10\\14 39 3\\16 39 6\\17 39 10\\18 39 4\\19 39 9\\20 39 3\\21 39 3\\24 39 3\\25 39 2\\29 39 5\\
3 40 2\\4 40 3\\6 40 10\\7 40 3\\8 40 3\\11 40 4\\12 40 2\\15 40 5\\16 40 8\\18 40 10\\19 40 9\\20 40 10\\24 40 3\\38 40 4\\
5 41 4\\6 41 10\\7 41 5\\8 41 3\\9 41 3\\10 41 3\\11 41 4\\14 41 3\\15 41 3\\19 41 10\\20 41 7\\21 41 2\\22 41 3\\24 41 2\\42 41 2\\
5 42 5\\6 42 7\\9 42 10\\10 42 2\\11 42 2\\12 42 5\\16 42 2\\17 42 2\\20 42 9\\21 42 7\\22 42 2\\23 42 3\\
3 43 7\\4 43 10\\5 43 10\\6 43 8\\7 43 8\\8 43 3\\14 43 5\\18 43 3\\19 43 3\\20 43 10\\22 43 2\\23 43 2\\27 43 4\\47 43 3\\48 43 4\\
2 44 2\\3 44 10\\4 44 10\\5 44 10\\6 44 7\\10 44 3\\12 44 4\\13 44 4\\19 44 3\\20 44 5\\21 44 8\\22 44 10\\23 44 10\\29 44 3\\32 44 2\\47 44 3\\
1 45 3\\2 45 10\\3 45 10\\4 45 10\\5 45 3\\6 45 7\\7 45 6\\10 45 3\\11 45 3\\17 45 2\\19 45 3\\20 45 4\\21 45 4\\22 45 4\\23 45 5\\24 45 4\\25 45 10\\26 45 3\\27 45 3\\30 45 3\\35 45 3\\37 45 10\\38 45 4\\39 45 4\\
1 46 3\\2 46 4\\3 46 7\\4 46 5\\5 46 5\\6 46 7\\7 46 6\\13 46 2\\14 46 3\\19 46 3\\20 46 4\\21 46 8\\22 46 3\\23 46 10\\24 46 10\\25 46 2\\26 46 2\\39 46 10\\48 46 3\\
1 47 7\\2 47 7\\3 47 8\\5 47 5\\11 47 2\\13 47 3\\23 47 4\\24 47 5\\25 47 4\\26 47 5\\27 47 5\\30 47 3\\34 47 3\\35 47 3\\37 47 3\\38 47 2\\39 47 3\\48 47 4\\
1 48 10\\3 48 8\\11 48 2\\23 48 3\\24 48 3\\25 48 10\\28 48 2\\29 48 3\\33 48 2\\35 48 3\\36 48 3\\37 48 3\\38 48 10\\39 48 2\\40 48 2\\
}\panelD
\pgfplotstableread[row sep=\\]{c r v\\
1 1 4\\2 1 2\\4 1 2\\22 1 1\\26 1 10\\27 1 10\\28 1 9\\29 1 3\\31 1 2\\33 1 2\\35 1 5\\36 1 2\\38 1 10\\40 1 4\\
1 2 2\\3 2 7\\14 2 2\\24 2 6\\25 2 3\\26 2 3\\28 2 10\\29 2 7\\30 2 2\\33 2 6\\36 2 3\\38 2 2\\39 2 3\\46 2 10\\47 2 10\\48 2 3\\
1 3 10\\24 3 6\\25 3 2\\27 3 10\\28 3 4\\29 3 10\\30 3 3\\31 3 3\\33 3 3\\35 3 6\\36 3 3\\37 3 6\\41 3 5\\44 3 3\\45 3 5\\46 3 5\\47 3 5\\48 3 5\\
1 4 8\\16 4 2\\24 4 6\\25 4 1\\27 4 3\\28 4 8\\29 4 3\\30 4 5\\33 4 7\\35 4 6\\37 4 6\\38 4 3\\39 4 8\\40 4 1\\42 4 3\\43 4 3\\44 4 7\\45 4 3\\
24 5 10\\26 5 2\\27 5 4\\28 5 10\\29 5 5\\30 5 3\\31 5 3\\32 5 3\\37 5 5\\41 5 3\\42 5 3\\44 5 4\\45 5 10\\46 5 7\\47 5 4\\48 5 5\\
27 6 7\\30 6 3\\31 6 3\\32 6 3\\33 6 3\\40 6 5\\43 6 7\\44 6 4\\45 6 7\\46 6 10\\47 6 4\\48 6 3\\
27 7 5\\28 7 5\\29 7 7\\30 7 10\\31 7 3\\32 7 10\\33 7 4\\34 7 4\\35 7 6\\36 7 5\\39 7 7\\43 7 5\\44 7 10\\45 7 5\\46 7 7\\47 7 10\\
27 8 5\\28 8 5\\29 8 10\\30 8 10\\31 8 9\\33 8 4\\38 8 3\\39 8 3\\45 8 10\\46 8 10\\47 8 6\\48 8 3\\
1 9 3\\25 9 3\\27 9 5\\28 9 3\\31 9 10\\32 9 7\\35 9 10\\36 9 3\\42 9 6\\43 9 5\\44 9 5\\48 9 3\\
1 10 3\\21 10 3\\28 10 4\\29 10 5\\30 10 3\\31 10 7\\32 10 9\\33 10 7\\35 10 6\\37 10 6\\38 10 6\\40 10 10\\42 10 8\\44 10 4\\
2 11 3\\29 11 2\\30 11 3\\31 11 4\\32 11 8\\33 11 10\\34 11 6\\35 11 4\\36 11 6\\37 11 6\\38 11 5\\39 11 5\\40 11 10\\41 11 10\\42 11 8\\45 11 5\\
23 12 6\\24 12 3\\29 12 6\\31 12 3\\32 12 4\\33 12 10\\34 12 6\\35 12 10\\36 12 10\\37 12 7\\38 12 9\\39 12 10\\41 12 10\\42 12 8\\
17 13 1\\24 13 2\\29 13 6\\32 13 3\\33 13 7\\34 13 10\\35 13 7\\36 13 7\\37 13 7\\38 13 6\\42 13 8\\
22 14 2\\33 14 3\\35 14 10\\36 14 4\\37 14 6\\38 14 7\\39 14 3\\40 14 3\\41 14 2\\
1 15 3\\31 15 5\\36 15 5\\37 15 3\\38 15 5\\39 15 3\\40 15 7\\42 15 1\\43 15 2\\44 15 10\\45 15 3\\46 15 6\\
27 16 3\\30 16 5\\31 16 2\\33 16 3\\35 16 3\\37 16 3\\39 16 4\\41 16 2\\43 16 3\\45 16 5\\
28 17 3\\30 17 3\\32 17 4\\35 17 4\\40 17 3\\41 17 3\\42 17 5\\45 17 2\\46 17 6\\
1 18 3\\27 18 3\\28 18 3\\29 18 3\\30 18 3\\32 18 3\\34 18 2\\37 18 6\\38 18 3\\40 18 3\\41 18 3\\43 18 5\\44 18 3\\46 18 10\\
28 19 3\\37 19 6\\38 19 2\\39 19 8\\44 19 2\\
3 20 4\\23 20 7\\27 20 10\\29 20 6\\30 20 6\\31 20 6\\33 20 3\\35 20 7\\38 20 3\\39 20 3\\42 20 2\\44 20 3\\45 20 10\\47 20 7\\48 20 5\\
1 21 3\\24 21 5\\35 21 7\\41 21 3\\42 21 2\\45 21 10\\47 21 6\\
25 22 2\\26 22 4\\37 22 5\\42 22 5\\43 22 3\\45 22 3\\48 22 3\\
1 23 8\\23 23 5\\26 23 4\\35 23 10\\38 23 3\\40 23 3\\44 23 6\\45 23 3\\48 23 4\\
1 24 3\\3 24 3\\38 24 3\\39 24 3\\43 24 2\\48 24 7\\
3 25 3\\4 25 3\\23 25 6\\34 25 2\\35 25 6\\45 25 3\\46 25 10\\48 25 10\\
22 26 2\\23 26 6\\27 26 4\\36 26 1\\39 26 3\\45 26 3\\
2 27 2\\4 27 3\\21 27 3\\22 27 5\\31 27 3\\33 27 2\\34 27 2\\
3 28 3\\5 28 3\\21 28 3\\24 28 5\\33 28 3\\
6 29 3\\19 29 4\\20 29 4\\41 29 2\\
1 30 3\\3 30 3\\4 30 3\\9 30 2\\15 30 3\\18 30 3\\20 30 3\\21 30 6\\28 30 3\\32 30 3\\
7 31 4\\18 31 2\\19 31 3\\20 31 3\\22 31 2\\23 31 5\\25 31 2\\42 31 2\\
1 32 4\\2 32 5\\4 32 3\\5 32 4\\6 32 5\\8 32 6\\9 32 5\\10 32 7\\11 32 4\\14 32 3\\15 32 3\\16 32 3\\17 32 3\\18 32 3\\19 32 7\\20 32 7\\21 32 3\\22 32 3\\23 32 3\\24 32 5\\25 32 2\\28 32 3\\
5 33 3\\8 33 6\\9 33 3\\10 33 6\\12 33 10\\13 33 8\\14 33 3\\16 33 7\\18 33 3\\22 33 4\\23 33 4\\25 33 2\\30 33 3\\38 33 3\\46 33 4\\
3 34 4\\4 34 4\\8 34 5\\9 34 5\\11 34 3\\13 34 10\\14 34 4\\16 34 7\\18 34 10\\19 34 4\\20 34 10\\22 34 3\\29 34 5\\
3 35 4\\4 35 3\\6 35 10\\8 35 5\\10 35 3\\13 35 10\\15 35 3\\16 35 3\\17 35 3\\19 35 7\\26 35 3\\46 35 5\\
2 36 3\\4 36 5\\5 36 7\\6 36 10\\7 36 3\\8 36 5\\10 36 10\\11 36 10\\12 36 3\\13 36 10\\14 36 10\\15 36 10\\16 36 10\\17 36 8\\18 36 8\\19 36 10\\26 36 3\\27 36 3\\38 36 3\\
4 37 2\\5 37 7\\6 37 6\\7 37 7\\8 37 10\\9 37 10\\10 37 10\\11 37 3\\12 37 3\\17 37 3\\18 37 6\\19 37 3\\20 37 3\\21 37 3\\22 37 5\\24 37 4\\43 37 2\\45 37 3\\47 37 2\\
8 38 10\\9 38 4\\10 38 7\\11 38 3\\12 38 10\\13 38 10\\15 38 3\\16 38 4\\18 38 7\\19 38 4\\20 38 3\\23 38 4\\27 38 4\\28 38 4\\32 38 3\\
1 39 3\\2 39 3\\4 39 6\\5 39 6\\6 39 7\\7 39 10\\8 39 7\\10 39 7\\12 39 3\\13 39 3\\14 39 6\\16 39 3\\18 39 7\\19 39 7\\29 39 4\\39 39 2\\47 39 2\\
2 40 3\\5 40 6\\6 40 4\\7 40 3\\8 40 7\\10 40 7\\12 40 4\\13 40 8\\15 40 1\\16 40 2\\17 40 1\\19 40 8\\21 40 10\\23 40 5\\30 40 3\\45 40 3\\
4 41 3\\5 41 3\\6 41 7\\8 41 10\\10 41 7\\12 41 5\\15 41 2\\16 41 2\\18 41 5\\19 41 7\\20 41 10\\21 41 5\\23 41 10\\25 41 3\\32 41 4\\37 41 5\\
2 42 10\\3 42 3\\5 42 7\\6 42 6\\8 42 10\\9 42 3\\10 42 5\\12 42 3\\13 42 4\\15 42 3\\16 42 2\\20 42 3\\21 42 3\\22 42 3\\23 42 7\\36 42 2\\
1 43 2\\2 43 3\\5 43 7\\6 43 7\\7 43 10\\8 43 5\\9 43 3\\10 43 4\\11 43 3\\13 43 4\\14 43 3\\15 43 1\\16 43 3\\19 43 10\\20 43 3\\21 43 6\\23 43 10\\27 43 3\\48 43 10\\
2 44 10\\3 44 7\\5 44 7\\6 44 3\\8 44 10\\9 44 3\\10 44 4\\11 44 3\\14 44 3\\16 44 2\\17 44 3\\20 44 7\\21 44 7\\22 44 8\\23 44 5\\24 44 4\\29 44 3\\
1 45 7\\2 45 8\\3 45 7\\4 45 5\\5 45 10\\7 45 3\\22 45 2\\24 45 10\\33 45 3\\35 45 4\\48 45 10\\
1 46 7\\2 46 4\\3 46 10\\4 46 10\\16 46 2\\17 46 2\\18 46 2\\19 46 7\\20 46 3\\22 46 5\\23 46 10\\24 46 10\\25 46 3\\27 46 3\\34 46 3\\39 46 3\\
1 47 5\\2 47 5\\3 47 10\\4 47 5\\5 47 3\\13 47 4\\19 47 2\\22 47 5\\23 47 10\\24 47 10\\26 47 5\\35 47 3\\37 47 10\\
1 48 5\\3 48 3\\13 48 4\\14 48 1\\23 48 10\\25 48 10\\26 48 8\\27 48 10\\28 48 3\\29 48 5\\30 48 3\\35 48 4\\38 48 3\\40 48 3\\47 48 2\\48 48 5\\
}\panelE
\pgfplotstableread[row sep=\\]{c r v\\
1 1 3\\2 1 3\\3 1 3\\5 1 3\\8 1 3\\11 1 6\\13 1 2\\14 1 2\\15 1 2\\16 1 3\\18 1 1\\26 1 6\\28 1 7\\33 1 5\\34 1 2\\36 1 7\\37 1 2\\46 1 10\\
1 2 3\\2 2 3\\3 2 4\\6 2 3\\8 2 7\\9 2 3\\10 2 3\\16 2 3\\25 2 10\\26 2 7\\27 2 7\\29 2 3\\30 2 3\\31 2 3\\32 2 10\\34 2 7\\35 2 3\\36 2 3\\38 2 10\\40 2 2\\41 2 10\\43 2 4\\44 2 3\\47 2 2\\
1 3 4\\3 3 5\\9 3 7\\13 3 3\\14 3 3\\15 3 4\\22 3 3\\25 3 10\\26 3 10\\27 3 10\\30 3 4\\31 3 4\\32 3 6\\34 3 6\\35 3 10\\37 3 3\\38 3 10\\40 3 10\\41 3 3\\47 3 10\\
1 4 8\\4 4 4\\6 4 3\\9 4 3\\11 4 3\\15 4 4\\28 4 7\\29 4 4\\32 4 3\\33 4 6\\34 4 3\\36 4 10\\42 4 5\\44 4 3\\47 4 10\\48 4 4\\
1 5 10\\8 5 4\\14 5 2\\15 5 4\\17 5 7\\24 5 2\\25 5 6\\29 5 3\\30 5 3\\33 5 4\\34 5 7\\35 5 10\\39 5 3\\41 5 6\\42 5 5\\47 5 6\\48 5 2\\
8 6 5\\9 6 4\\20 6 3\\25 6 6\\28 6 7\\29 6 6\\30 6 10\\31 6 2\\33 6 7\\34 6 2\\36 6 3\\37 6 5\\38 6 4\\39 6 3\\40 6 3\\41 6 5\\43 6 10\\44 6 6\\45 6 6\\
6 7 2\\13 7 2\\24 7 3\\26 7 3\\27 7 10\\28 7 10\\29 7 6\\30 7 4\\31 7 10\\32 7 4\\33 7 3\\37 7 4\\38 7 6\\41 7 10\\44 7 7\\45 7 10\\46 7 7\\
1 8 7\\5 8 3\\15 8 3\\16 8 2\\27 8 3\\28 8 4\\30 8 10\\33 8 2\\34 8 3\\35 8 3\\39 8 4\\41 8 10\\43 8 4\\44 8 2\\45 8 4\\
2 9 2\\14 9 1\\23 9 2\\26 9 10\\29 9 10\\30 9 4\\31 9 3\\32 9 5\\34 9 2\\37 9 3\\38 9 2\\43 9 5\\45 9 10\\46 9 4\\47 9 4\\48 9 3\\
1 10 4\\2 10 4\\3 10 3\\5 10 10\\6 10 7\\14 10 3\\22 10 3\\25 10 3\\27 10 3\\28 10 7\\29 10 10\\30 10 10\\32 10 5\\33 10 3\\37 10 3\\39 10 10\\41 10 10\\42 10 4\\44 10 10\\46 10 6\\
1 11 3\\2 11 3\\3 11 3\\6 11 3\\11 11 2\\13 11 3\\14 11 3\\16 11 3\\18 11 3\\22 11 3\\26 11 5\\27 11 5\\29 11 6\\30 11 6\\31 11 7\\32 11 10\\35 11 3\\37 11 3\\41 11 6\\42 11 4\\44 11 3\\45 11 7\\46 11 7\\
26 12 5\\27 12 5\\29 12 3\\30 12 5\\31 12 7\\33 12 6\\38 12 3\\41 12 7\\42 12 3\\43 12 6\\45 12 10\\
10 13 3\\17 13 3\\22 13 3\\23 13 3\\28 13 7\\29 13 3\\32 13 3\\40 13 4\\43 13 7\\44 13 8\\
12 14 4\\24 14 2\\27 14 3\\29 14 3\\31 14 3\\38 14 4\\40 14 2\\41 14 4\\42 14 10\\43 14 8\\44 14 4\\47 14 4\\48 14 4\\
2 15 3\\3 15 4\\5 15 3\\12 15 5\\15 15 3\\23 15 2\\30 15 8\\31 15 3\\32 15 3\\33 15 6\\46 15 3\\47 15 3\\48 15 3\\
2 16 3\\3 16 4\\30 16 8\\33 16 6\\41 16 2\\43 16 1\\44 16 4\\45 16 7\\47 16 7\\48 16 3\\
1 17 3\\3 17 3\\5 17 3\\12 17 8\\18 17 3\\27 17 4\\28 17 4\\29 17 4\\30 17 8\\37 17 3\\38 17 5\\41 17 2\\45 17 5\\46 17 3\\
4 18 4\\9 18 3\\14 18 5\\18 18 3\\31 18 5\\34 18 3\\35 18 2\\37 18 5\\41 18 10\\44 18 10\\46 18 6\\47 18 3\\
1 19 4\\4 19 4\\5 19 3\\12 19 4\\20 19 5\\25 19 5\\28 19 3\\31 19 5\\33 19 3\\34 19 3\\36 19 3\\42 19 3\\44 19 3\\47 19 3\\48 19 3\\
1 20 5\\4 20 4\\7 20 3\\27 20 8\\31 20 10\\33 20 3\\41 20 10\\43 20 7\\45 20 3\\
1 21 4\\2 21 2\\12 21 3\\13 21 3\\26 21 3\\27 21 1\\38 21 2\\45 21 3\\46 21 10\\
1 22 4\\9 22 3\\12 22 7\\17 22 3\\20 22 3\\26 22 4\\28 22 4\\31 22 5\\32 22 5\\38 22 3\\43 22 7\\
3 23 3\\4 23 4\\5 23 4\\8 23 3\\14 23 3\\18 23 4\\26 23 5\\27 23 5\\31 23 5\\32 23 5\\35 23 3\\38 23 1\\48 23 4\\
1 24 3\\6 24 3\\10 24 3\\15 24 3\\17 24 4\\18 24 3\\22 24 1\\25 24 6\\38 24 3\\40 24 2\\48 24 5\\
1 25 2\\3 25 3\\4 25 3\\5 25 3\\10 25 4\\12 25 3\\18 25 3\\23 25 2\\24 25 2\\31 25 3\\45 25 2\\46 25 1\\
2 26 3\\3 26 7\\4 26 3\\7 26 3\\9 26 4\\10 26 5\\14 26 8\\15 26 3\\19 26 3\\20 26 3\\21 26 2\\25 26 6\\26 26 6\\32 26 5\\36 26 3\\38 26 3\\43 26 7\\
3 27 3\\6 27 4\\9 27 3\\10 27 10\\19 27 3\\20 27 3\\23 27 2\\24 27 2\\
1 28 2\\3 28 2\\4 28 2\\6 28 4\\8 28 7\\13 28 3\\15 28 7\\17 28 7\\19 28 4\\20 28 4\\30 28 7\\33 28 5\\38 28 3\\
1 29 2\\3 29 3\\4 29 3\\6 29 3\\7 29 3\\19 29 3\\20 29 3\\21 29 3\\25 29 4\\35 29 3\\40 29 3\\42 29 2\\
2 30 10\\5 30 3\\6 30 3\\7 30 6\\9 30 2\\13 30 3\\18 30 3\\20 30 6\\22 30 3\\23 30 2\\26 30 3\\28 30 3\\34 30 3\\36 30 3\\38 30 2\\40 30 3\\41 30 4\\45 30 5\\
4 31 3\\7 31 3\\9 31 6\\15 31 5\\16 31 3\\22 31 7\\23 31 2\\35 31 6\\36 31 2\\
7 32 10\\11 32 7\\15 32 3\\16 32 3\\19 32 3\\22 32 4\\26 32 3\\32 32 3\\33 32 5\\35 32 3\\36 32 3\\38 32 5\\39 32 6\\
1 33 2\\7 33 3\\8 33 3\\10 33 6\\11 33 5\\12 33 5\\17 33 8\\20 33 4\\22 33 4\\27 33 3\\28 33 3\\30 33 2\\46 33 4\\
5 34 3\\6 34 4\\7 34 4\\8 34 3\\10 34 6\\11 34 7\\12 34 5\\13 34 3\\25 34 10\\27 34 7\\28 34 4\\37 34 10\\39 34 10\\44 34 3\\46 34 4\\
10 35 5\\11 35 5\\12 35 5\\15 35 7\\17 35 8\\18 35 4\\20 35 3\\21 35 3\\25 35 5\\34 35 4\\36 35 4\\37 35 3\\46 35 2\\
1 36 3\\3 36 3\\4 36 7\\7 36 10\\8 36 10\\11 36 6\\12 36 3\\14 36 3\\15 36 3\\18 36 5\\19 36 10\\20 36 6\\22 36 3\\25 36 5\\27 36 7\\34 36 6\\35 36 6\\37 36 4\\38 36 4\\39 36 4\\48 36 10\\
1 37 3\\4 37 7\\6 37 5\\7 37 7\\8 37 8\\9 37 10\\17 37 7\\18 37 5\\20 37 6\\23 37 4\\29 37 4\\36 37 7\\37 37 3\\43 37 2\\47 37 3\\
4 38 3\\5 38 7\\6 38 3\\7 38 7\\8 38 7\\9 38 5\\12 38 8\\13 38 3\\16 38 3\\18 38 4\\20 38 7\\21 38 3\\35 38 3\\39 38 5\\47 38 3\\48 38 10\\
4 39 3\\6 39 7\\7 39 3\\9 39 10\\12 39 10\\13 39 4\\16 39 3\\18 39 3\\20 39 9\\22 39 3\\30 39 5\\41 39 5\\46 39 7\\
1 40 2\\6 40 4\\7 40 4\\11 40 10\\12 40 5\\14 40 4\\15 40 3\\20 40 9\\22 40 3\\27 40 3\\30 40 4\\38 40 2\\43 40 3\\44 40 3\\48 40 3\\
3 41 3\\5 41 7\\6 41 10\\7 41 3\\8 41 3\\9 41 3\\12 41 7\\17 41 7\\18 41 5\\20 41 10\\21 41 5\\22 41 6\\27 41 6\\28 41 3\\32 41 3\\44 41 3\\
5 42 7\\6 42 7\\7 42 3\\11 42 7\\12 42 8\\13 42 5\\18 42 10\\20 42 5\\21 42 7\\23 42 1\\26 42 7\\28 42 3\\30 42 3\\32 42 3\\36 42 3\\45 42 2\\
4 43 7\\5 43 7\\6 43 10\\8 43 3\\9 43 10\\11 43 5\\12 43 7\\13 43 7\\15 43 10\\17 43 2\\21 43 10\\22 43 10\\23 43 1\\36 43 3\\38 43 3\\42 43 3\\
1 44 3\\2 44 4\\4 44 7\\5 44 5\\6 44 5\\11 44 8\\12 44 8\\14 44 10\\16 44 10\\19 44 3\\20 44 5\\22 44 10\\23 44 10\\25 44 10\\30 44 5\\37 44 2\\
1 45 3\\3 45 7\\4 45 10\\5 45 5\\6 45 6\\9 45 5\\11 45 10\\12 45 10\\14 45 7\\15 45 10\\16 45 10\\17 45 4\\18 45 3\\20 45 3\\22 45 10\\24 45 6\\25 45 4\\26 45 4\\27 45 7\\30 45 5\\44 45 5\\
2 46 10\\3 46 3\\4 46 7\\5 46 5\\7 46 5\\12 46 4\\13 46 10\\14 46 7\\15 46 10\\16 46 10\\17 46 10\\18 46 2\\19 46 2\\22 46 10\\23 46 2\\24 46 3\\25 46 6\\32 46 2\\33 46 3\\34 46 3\\40 46 10\\41 46 3\\42 46 4\\45 46 3\\
1 47 6\\2 47 10\\3 47 10\\6 47 3\\8 47 5\\9 47 6\\10 47 6\\12 47 10\\13 47 10\\14 47 8\\15 47 7\\16 47 5\\18 47 3\\23 47 5\\24 47 10\\25 47 10\\26 47 4\\27 47 3\\31 47 5\\32 47 3\\33 47 3\\34 47 3\\37 47 3\\38 47 3\\43 47 3\\45 47 3\\46 47 2\\
2 48 10\\3 48 10\\5 48 10\\7 48 3\\10 48 5\\11 48 7\\14 48 7\\15 48 8\\16 48 6\\22 48 3\\23 48 3\\24 48 10\\25 48 9\\26 48 5\\30 48 3\\32 48 3\\33 48 3\\35 48 2\\36 48 2\\37 48 2\\39 48 3\\42 48 5\\43 48 3\\44 48 3\\47 48 5\\48 48 10\\
}\panelF
\begin{document}
\begin{tikzpicture}
\useasboundingbox (0,0) rectangle (600pt,335pt);
\begin{axis}[panel, at={(33pt,185.5pt)}, title={Open ears without noise}, xticklabels={}, xlabel={}]
\addplot[cells] table[cellsrc] {\panelA};
\end{axis}
\begin{axis}[panel, at={(214.5pt,185.5pt)}, title={Earplug off}, xticklabels={}, xlabel={}, yticklabels={}, ylabel={}]
\addplot[cells] table[cellsrc] {\panelB};
\end{axis}
\begin{axis}[panel, at={(396.5pt,185.5pt)}, title={Earmuff off}, xticklabels={}, xlabel={}, yticklabels={}, ylabel={}]
\addplot[cells] table[cellsrc] {\panelC};
\end{axis}
\begin{axis}[cbar, at={(577pt,185.5pt)}]
\addplot[surf, shader=interp, point meta=y] coordinates {(0,0) (1,0)

(0,1) (1,1)};
\end{axis}
\begin{axis}[panel, at={(33pt,36pt)}, title={Open ears}]
\addplot[cells] table[cellsrc] {\panelD};
\end{axis}
\begin{axis}[panel, at={(214.5pt,36pt)}, title={Earplug on}, yticklabels={}, ylabel={}]
\addplot[cells] table[cellsrc] {\panelE};
\end{axis}
\begin{axis}[panel, at={(396.5pt,36pt)}, title={Earmuff on}, yticklabels={}, ylabel={}]
\addplot[cells] table[cellsrc] {\panelF};
\end{axis}
\begin{axis}[cbar, at={(577pt,36pt)}]
\addplot[surf, shader=interp, point meta=y] coordinates {(0,0) (1,0)

(0,1) (1,1)};
\end{axis}
\end{tikzpicture}
\end{document}
